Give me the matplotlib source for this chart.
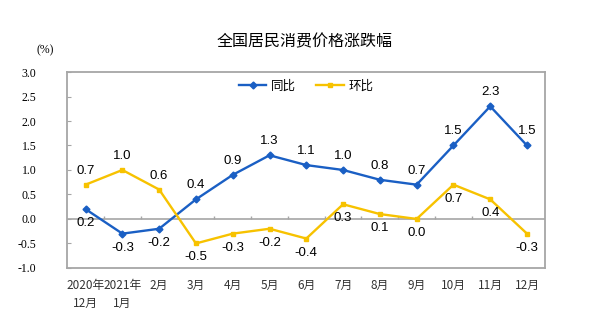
import numpy as np
import matplotlib.pyplot as plt

plt.rcParams['font.family'] = ['Noto Sans CJK SC', 'DejaVu Sans']

months = ['2020年\n12月', '2021年\n1月', '2月', '3月', '4月', '5月', '6月',
          '7月', '8月', '9月', '10月', '11月', '12月']
yoy = [0.2, -0.3, -0.2, 0.4, 0.9, 1.3, 1.1, 1.0, 0.8, 0.7, 1.5, 2.3, 1.5]
mom = [0.7, 1.0, 0.6, -0.5, -0.3, -0.2, -0.4, 0.3, 0.1, 0.0, 0.7, 0.4, -0.3]
yoy_above = [False, False, False] + [True] * 10
mom_above = [True, True, True] + [False] * 10

blue = '#1a5fc4'
yellow = '#f7c200'
grey = '#a6a6a6'

fig = plt.figure(figsize=(6, 3.32), dpi=100)
ax = fig.add_axes([0.112, 0.193, 0.797, 0.590])

x = np.arange(len(months))
ax.plot(x, yoy, color=blue, lw=1.7, marker='D', ms=3.5, label='同比', zorder=3)
ax.plot(x, mom, color=yellow, lw=1.7, marker='s', ms=3.2, label='环比', zorder=3)

for xs, vals, above in ((x, yoy, yoy_above), (x, mom, mom_above)):
    for xi, v, up in zip(xs, vals, above):
        ax.annotate(f'{v:.1f}', (xi, v), textcoords='offset pixels',
                    xytext=(0, 8 if up else -8), ha='center',
                    va='bottom' if up else 'top',
                    fontsize=9.5, family='Liberation Sans')

ax.set_xlim(-0.5, len(months) - 0.5)
ax.set_ylim(-1.0, 3.0)
ax.set_yticks(np.arange(-1.0, 3.01, 0.5))
ax.set_yticklabels([f'{t:.1f}' for t in np.arange(-1.0, 3.01, 0.5)],
                   family='Liberation Serif', fontsize=8.5)
ax.tick_params(axis='y', direction='in', length=3, color=grey, pad=22)

ax.set_xticks(x)
ax.set_xticklabels(months, fontsize=8.5, color='#333333', linespacing=1.5,
                   va='top')
ax.tick_params(axis='x', length=0, pad=8)

ax.axhline(0, color=grey, lw=1.2, zorder=1)
ax.vlines(x[:-1] + 0.5, 0, 0.06, color=grey, lw=1, zorder=1)

for s in ax.spines.values():
    s.set_color(grey)
    s.set_linewidth(1.3)

ax.legend(loc='upper center', ncol=2, frameon=False, fontsize=9,
          handlelength=2.2, columnspacing=1.6, handletextpad=0.4,
          bbox_to_anchor=(0.5, 1.0), borderaxespad=0.2)

fig.text(0.508, 0.873, '全国居民消费价格涨跌幅', ha='center', va='center',
         fontsize=11.5)
fig.text(0.075, 0.85, '(%)', ha='center', va='center',
         family='Liberation Serif', fontsize=8.5)

fig.savefig('out.png', dpi=100)
